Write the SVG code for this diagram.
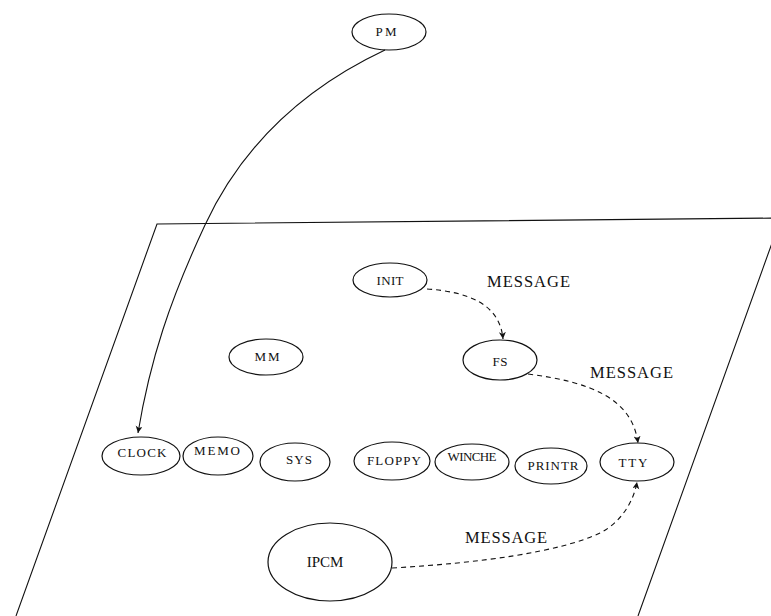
<svg xmlns="http://www.w3.org/2000/svg" width="771" height="616" viewBox="0 0 771 616">
<style>
.n ellipse{fill:none;stroke:#111;stroke-width:1.2}
.t{font-family:"Liberation Serif","Times New Roman",serif;font-size:13px;fill:#111;text-anchor:middle}
.m{font-family:"Liberation Serif","Times New Roman",serif;font-size:16.5px;fill:#111}
.c{fill:none;stroke:#111;stroke-width:1.1}
.d{stroke-dasharray:5 4}
</style>
<defs>
<marker id="ah" markerWidth="8" markerHeight="8" refX="7" refY="3.5" orient="auto" markerUnits="userSpaceOnUse">
<path d="M0,0 L7,3.5 L0,7 L2,3.5 z" fill="#111"/>
</marker>
</defs>
<rect width="771" height="616" fill="#fff"/>
<path id="frame" d="M16,616 L157,224 L781,218 L638,616" fill="none" stroke="#111" stroke-width="1.1"/>
<g id="connectors">
<path class="c" d="M385,50 C300,90 240,150 205,225 S150,360 138,433" marker-end="url(#ah)"/>
<path class="c d" d="M427,289 C470,292 500,305 503,339" marker-end="url(#ah)"/>
<path class="c d" d="M528,374 C590,382 632,398 638,443" marker-end="url(#ah)"/>
<path class="c d" d="M392,568 C480,563 560,552 600,533 C622,522 634,500 637,482" marker-end="url(#ah)"/>
</g>
<g id="PM" class="n"><ellipse cx="389" cy="32" rx="37" ry="18"/><text class="t" x="386" y="36" textLength="21">PM</text></g>
<g id="INIT" class="n"><ellipse cx="390" cy="280" rx="37" ry="17"/><text class="t" x="390" y="285" textLength="27">INIT</text></g>
<g id="MM" class="n"><ellipse cx="266" cy="357" rx="37" ry="18"/><text class="t" x="267" y="361" textLength="25">MM</text></g>
<g id="FS" class="n"><ellipse cx="500" cy="360" rx="37" ry="20"/><text class="t" x="500" y="366" textLength="15">FS</text></g>
<g id="CLOCK" class="n"><ellipse cx="141" cy="456" rx="39" ry="19"/><text class="t" x="142" y="457" textLength="49">CLOCK</text></g>
<g id="MEMO" class="n"><ellipse cx="218" cy="456" rx="35" ry="19"/><text class="t" x="217" y="455" textLength="46">MEMO</text></g>
<g id="SYS" class="n"><ellipse cx="295" cy="462" rx="35" ry="19"/><text class="t" x="299" y="464" textLength="26">SYS</text></g>
<g id="FLOPPY" class="n"><ellipse cx="392" cy="461" rx="38" ry="19"/><text class="t" x="394" y="465" textLength="54">FLOPPY</text></g>
<g id="WINCHE" class="n"><ellipse cx="472" cy="462" rx="37" ry="18"/><text class="t" x="472" y="461" textLength="49">WINCHE</text></g>
<g id="PRINTR" class="n"><ellipse cx="551" cy="466" rx="36" ry="18"/><text class="t" x="553" y="470" textLength="51">PRINTR</text></g>
<g id="TTY" class="n"><ellipse cx="637" cy="462" rx="37" ry="19"/><text class="t" x="633" y="467" textLength="29">TTY</text></g>
<g id="IPCM" class="n"><ellipse cx="330" cy="562" rx="62" ry="39"/><text class="t" x="325" y="567" style="font-size:15px">IPCM</text></g>
<text class="m" x="487" y="287" textLength="83">MESSAGE</text>
<text class="m" x="590" y="378" textLength="83">MESSAGE</text>
<text class="m" x="465" y="543" textLength="82">MESSAGE</text>
</svg>
